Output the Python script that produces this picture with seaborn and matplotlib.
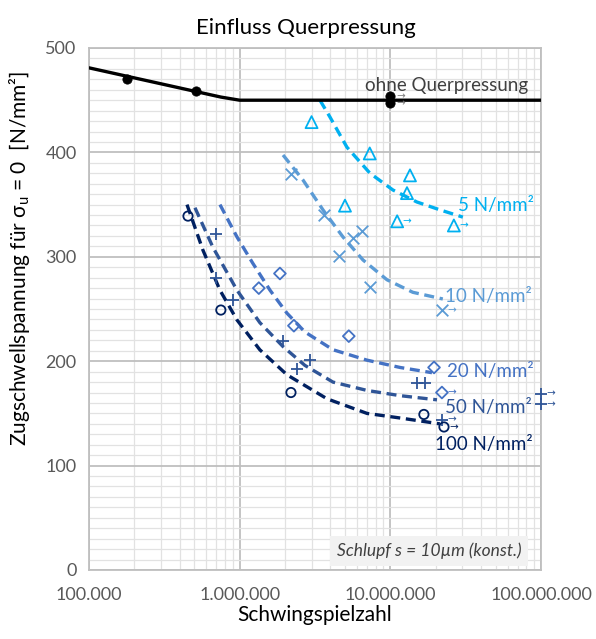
import matplotlib
matplotlib.use("Agg")
import matplotlib.pyplot as plt
from matplotlib.ticker import FixedLocator, FuncFormatter, MultipleLocator, NullFormatter
import numpy as np
import pandas as pd
import seaborn as sns

# ---------------- data ----------------
# reference without transverse pressure
ref_curve_N = [1.0e5, 7.5e5, 1.0e6, 1.0e8]
ref_curve_S = [481, 453, 450, 450]
ref_N = [1.8e5, 5.1e5, 1.0e7, 1.0e7]
ref_S = [470, 459, 454, 447]
ref_runout = [False, False, True, True]

# 5 N/mm²
q5_N = [3.0e6, 7.3e6, 5.0e6, 1.35e7, 1.29e7, 1.11e7, 2.64e7]
q5_S = [429, 399, 349, 378, 361, 334, 330]
q5_runout = [False, False, False, False, False, True, True]
q5_curve_N = [3.41e6, 3.97e6, 5.15e6, 7.33e6, 1.04e7, 1.5e7, 2.13e7, 3.03e7]
q5_curve_S = [450, 434, 405, 380, 364, 352.5, 345, 338]

# 10 N/mm²
q10_N = [2.19e6, 3.62e6, 6.46e6, 5.65e6, 4.56e6, 7.33e6, 2.2e7]
q10_S = [379, 340, 325, 318, 301, 271, 249]
q10_runout = [False, False, False, False, False, False, True]
q10_curve_N = [1.94e6, 2.63e6, 3.57e6, 4.85e6, 6.58e6, 9.5e6, 1.41e7, 2.23e7]
q10_curve_S = [397.5, 373.6, 345, 319, 297, 278, 266, 259.6]

# 20 N/mm²
q20_N = [1.85e6, 1.34e6, 2.29e6, 5.3e6, 1.95e7, 2.2e7]
q20_S = [284, 270, 234, 224, 194, 170]
q20_runout = [False, False, False, False, False, True]
q20_curve_N = [7.4e5, 9.6e5, 1.22e6, 1.59e6, 2.06e6, 2.71e6, 4.16e6, 7.0e6, 1.16e7, 1.89e7]
q20_curve_S = [350, 319, 294, 268, 246, 228, 211, 201, 194, 189]

# 50 N/mm²
q50_N = [6.97e5, 6.97e5, 9.0e5, 1.94e6, 2.93e6, 2.4e6, 1.5e7, 1.7e7, 2.2e7, 1.0e8, 1.0e8]
q50_S = [322, 280, 259, 219, 201, 192.5, 179, 179, 144, 169, 159]
q50_runout = [False, False, False, False, False, False, False, False, True, True, True]
q50_curve_N = [5.05e5, 6.65e5, 9.6e5, 1.36e6, 1.94e6, 2.71e6, 4.16e6, 7.0e6, 1.16e7, 2.04e7]
q50_curve_S = [347, 309, 268, 237, 214, 196, 180, 172, 167, 163]

# 100 N/mm²
q100_N = [4.54e5, 7.5e5, 2.19e6, 1.67e7, 2.27e7]
q100_S = [339, 249, 170, 149, 137]
q100_runout = [False, False, False, False, True]
q100_curve_N = [4.47e5, 5.7e5, 7.4e5, 9.6e5, 1.36e6, 2.06e6, 3.8e6, 7.0e6, 1.16e7, 2.13e7]
q100_curve_S = [350, 306.5, 268, 239.5, 211, 187, 164, 150, 145.6, 140]

labels = ["ohne Querpressung", "5 N/mm²", "10 N/mm²", "20 N/mm²", "50 N/mm²", "100 N/mm²"]
label_N = [6.78e6, 2.81e7, 2.3e7, 2.38e7, 2.3e7, 1.98e7]
label_S = [464.5, 348.7, 262, 190, 156, 120.5]

x_ticks = [1e5, 1e6, 1e7, 1e8]
y_ticks = [0, 100, 200, 300, 400, 500]

# ---------------- style ----------------
sns.set_style("white")
plt.rcParams["font.family"] = ["Lato", "DejaVu Sans"]
plt.rcParams["mathtext.fontset"] = "custom"
plt.rcParams["mathtext.rm"] = "Lato"
plt.rcParams["mathtext.it"] = "Lato:italic"

fig = plt.figure(figsize=(5.96, 6.39), dpi=100)
ax = fig.add_axes([89 / 596, 69 / 639, 452 / 596, 522 / 639])

c_ref = "#000000"
colors = ["#00B0F0", "#5B9BD5", "#4472C4", "#2F5597", "#002060"]
series = [
    (q5_N, q5_S, q5_runout, q5_curve_N, q5_curve_S, "^", 75),
    (q10_N, q10_S, q10_runout, q10_curve_N, q10_curve_S, "x", 70),
    (q20_N, q20_S, q20_runout, q20_curve_N, q20_curve_S, "D", 36),
    (q50_N, q50_S, q50_runout, q50_curve_N, q50_curve_S, "+", 75),
    (q100_N, q100_S, q100_runout, q100_curve_N, q100_curve_S, "o", 45),
]

# reference line and points
sns.lineplot(x=ref_curve_N, y=ref_curve_S, color=c_ref, linewidth=2.4,
             estimator=None, sort=False, ax=ax, zorder=4)
sns.scatterplot(x=ref_N, y=ref_S, color=c_ref, s=45, edgecolor=c_ref,
                linewidth=0.5, ax=ax, zorder=5)

def runout_arrows(Ns, Ss, flags, color):
    for n, s, f in zip(Ns, Ss, flags):
        if f:
            ax.annotate("→", xy=(n, s), xytext=(4, 0), textcoords="offset points",
                        ha="left", va="center", fontsize=7.5, color=color,
                        family="DejaVu Sans", zorder=6, annotation_clip=False)

runout_arrows(ref_N, ref_S, ref_runout, "#7F7F7F")

for (Ns, Ss, flags, cN, cS, mk, sz), col in zip(series, colors):
    sns.lineplot(x=cN, y=cS, color=col, linewidth=2.4, linestyle=(0, (3, 1.7)),
                 estimator=None, sort=False, ax=ax, zorder=3)
    if mk in ("x", "+"):
        sns.scatterplot(x=Ns, y=Ss, marker=mk, s=sz, color=col, linewidth=1.3,
                        ax=ax, zorder=5, clip_on=False)
    else:
        sns.scatterplot(x=Ns, y=Ss, marker=mk, s=sz, facecolors="none",
                        edgecolor=col, linewidth=1.3, ax=ax, zorder=5)
    runout_arrows(Ns, Ss, flags, col)

label_colors = ["#404040"] + colors
for t, n, s, col in zip(labels, label_N, label_S, label_colors):
    ax.text(n, s, t, ha="left", va="center", fontsize=13.5, color=col, zorder=6)

# axes
ax.set_xscale("log")
ax.set_xlim(1e5, 1e8)
ax.set_ylim(0, 500)
ax.xaxis.set_major_locator(FixedLocator(x_ticks))
ax.xaxis.set_major_formatter(FuncFormatter(lambda v, p: f"{int(round(v)):,}".replace(",", ".")))
minor_x = [m * 10 ** e for e in range(5, 8) for m in range(2, 10)]
ax.xaxis.set_minor_locator(FixedLocator(minor_x))
ax.xaxis.set_minor_formatter(NullFormatter())
ax.yaxis.set_major_locator(FixedLocator(y_ticks))
ax.yaxis.set_minor_locator(MultipleLocator(10))

ax.grid(which="major", color="#BFBFBF", linewidth=1.3)
ax.grid(which="minor", color="#E2E2E2", linewidth=0.9)
ax.set_axisbelow(True)
for sp in ax.spines.values():
    sp.set_color("#BFBFBF")
    sp.set_linewidth(1.3)

ax.tick_params(which="major", direction="out", length=6, width=1.2, color="#BFBFBF",
               labelsize=13, labelcolor="#595959")
ax.tick_params(axis="x", which="major", pad=6)
ax.tick_params(axis="y", which="major", pad=3)
ax.tick_params(which="minor", length=0)

ax.set_title("Einfluss Querpressung", fontsize=16, color="#000000", pad=10, x=0.48)
ax.set_xlabel("Schwingspielzahl", fontsize=15, color="#000000", labelpad=2)
ax.set_ylabel("Zugschwellspannung für σ$_\\mathregular{u}$ = 0  [N/mm²]", fontsize=15,
              color="#000000")
ax.yaxis.set_label_coords(-0.125, 0.598)

ax.text(0.752, 0.036, "Schlupf s = 10µm (konst.)", transform=ax.transAxes,
        ha="center", va="center", fontsize=12.5, style="italic", color="#404040",
        bbox=dict(boxstyle="square,pad=0.38", facecolor="#F2F2F2", edgecolor="none"),
        zorder=6)

fig.savefig("out.png", dpi=100)
